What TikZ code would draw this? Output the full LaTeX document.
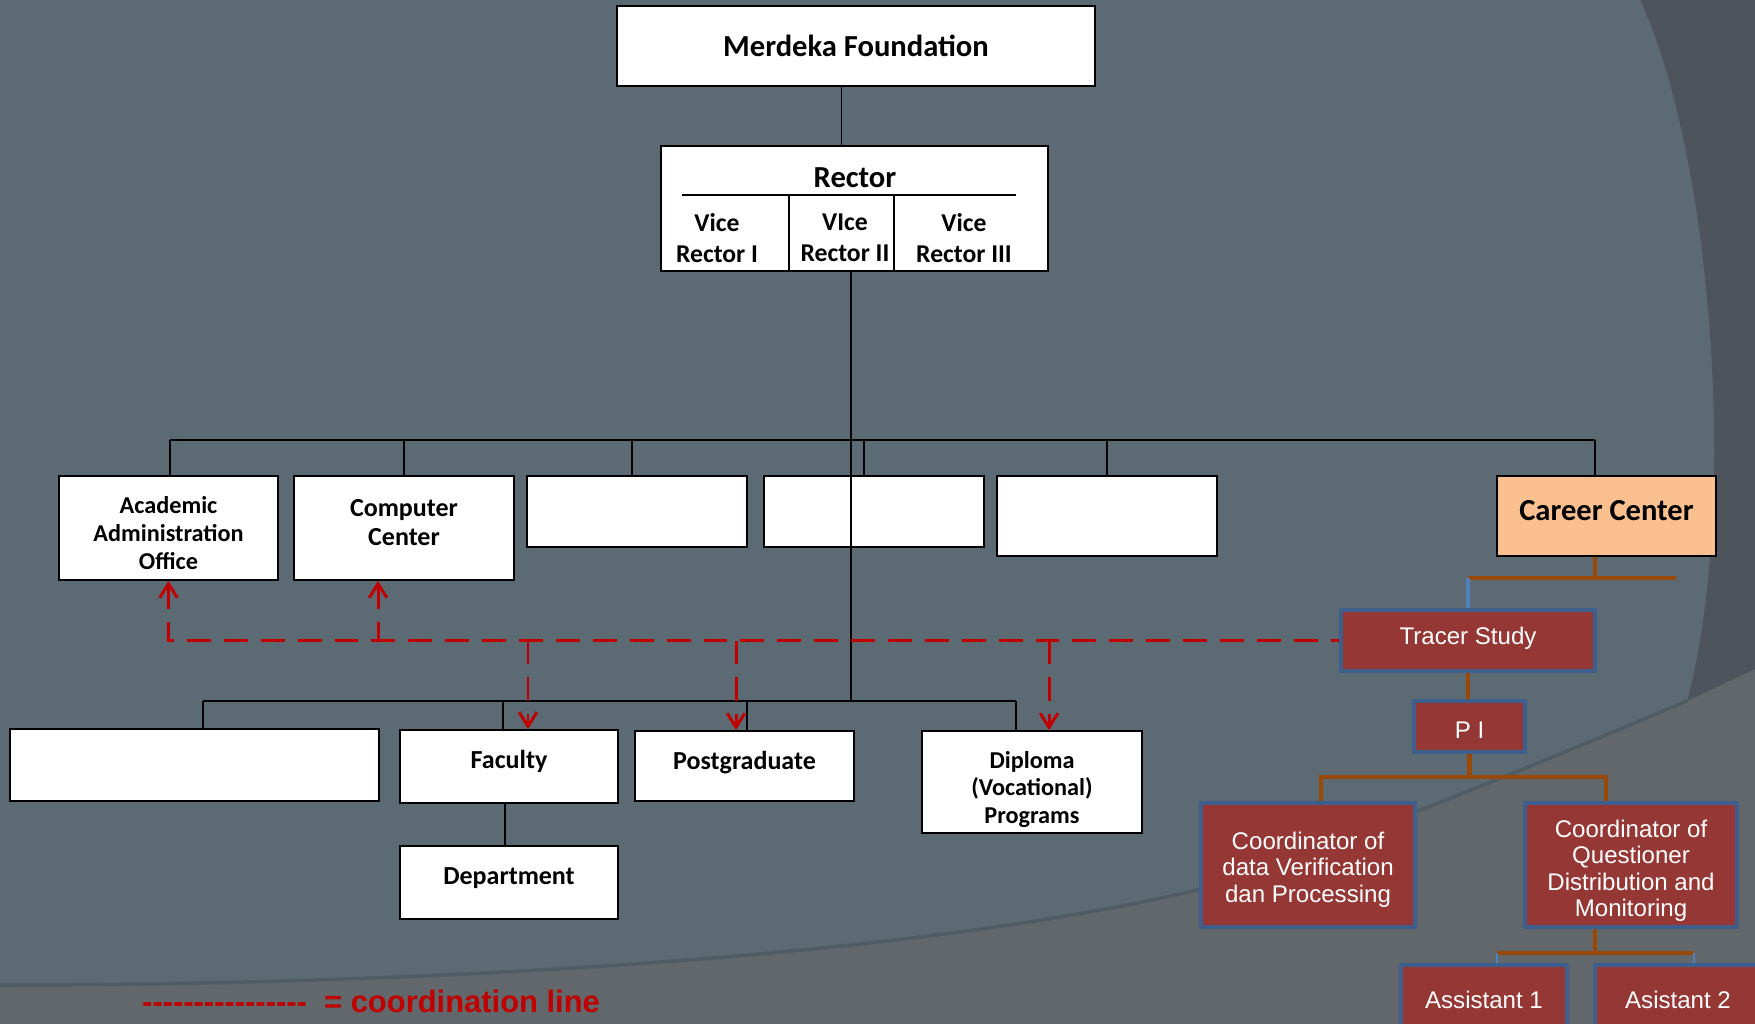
\documentclass[tikz,border=0pt]{standalone}
\usepackage{fontspec}
\setmainfont{Carlito}
\newfontfamily\tsfont{Liberation Sans}
\usetikzlibrary{arrows.meta}
\definecolor{bgmain}{RGB}{92,106,116}
\definecolor{bgdark}{RGB}{78,84,92}
\definecolor{bglow}{RGB}{97,103,106}
\definecolor{bgedge}{RGB}{80,92,100}
\definecolor{tsred}{RGB}{149,55,53}
\definecolor{tsblue}{RGB}{62,94,142}
\definecolor{tsbrown}{RGB}{152,72,7}
\definecolor{tickblue}{RGB}{79,129,189}
\definecolor{coordred}{RGB}{192,0,0}
\newcommand{\legdash}{-\kern0pt}

\begin{document}
\begin{tikzpicture}[x=0.02cm, y=-0.02cm,
  unit/.style={draw=black, line width=1pt, fill=white, inner sep=0pt, align=center},
  bigtext/.style={font=\bfseries\fontsize{17.4}{20}\selectfont},
  midtext/.style={font=\bfseries\fontsize{14.8}{16.6}\selectfont},
  smalltext/.style={font=\bfseries\fontsize{13.8}{15.8}\selectfont},
  vicetext/.style={align=center, font=\bfseries\fontsize{14.6}{17.6}\selectfont},
  ts/.style={draw=tsblue, line width=2.1pt, fill=tsred, text=white, inner sep=0pt,
    align=center, font=\tsfont\fontsize{13.7}{15.1}\selectfont},
  orgline/.style={draw=black, line width=1pt},
  tsline/.style={draw=tsbrown, line width=2.5pt},
  coordline/.style={draw=coordred, line width=1.7pt, dash pattern=on 13.6pt off 7.4pt,
    >={Straight Barb[length=8pt,width=10pt]}}]
  \useasboundingbox (0,0) rectangle (1755,1024);
  \clip (0,0) rectangle (1755,1024);
  \fill[bglow] (0,0) rectangle (1755,1024);
  \fill[bgdark] (1640,0) -- (1755,0) -- (1755,669) -- (1687,701)
    .. controls (1740,500) and (1710,150) .. (1640,0);
  \fill[bgmain] (0,0) -- (1640,0) .. controls (1710,150) and (1740,500) .. (1687,701)
    .. controls (1500,780) and (1300,860) .. (1197,890)
    .. controls (900,960) and (400,985) .. (0,985) -- cycle;
  \draw[bgedge, line width=2pt] (1687,701) .. controls (1500,780) and (1300,860) .. (1197,890)
    .. controls (900,960) and (400,985) .. (0,985);

  \node[unit, bigtext, minimum width=9.56cm, minimum height=1.6cm] (Merdeka) at (856,46)
    {Merdeka Foundation};
  \node[unit, minimum width=7.74cm, minimum height=2.5cm] (Rector) at (854.5,208.5) {};
  \node[bigtext] (RectorTitle) at (855,178) {Rector};
  \draw[orgline] (682,195) -- (1016,195);
  \draw[orgline] (789,195) -- (789,271);
  \draw[orgline] (894,195) -- (894,271);
  \node[vicetext] (ViceOne) at (717,238) {Vice\\Rector I};
  \node[vicetext] (ViceTwo) at (845,238) {VIce\\Rector II};
  \node[vicetext] (ViceThree) at (964,238) {Vice\\Rector III};

  \node[unit, smalltext, text height=47pt, text depth=0pt, minimum width=4.38cm,
    minimum height=2.08cm] (AcadAdmin) at (168.5,528) {Academic\\Administration\\Office};
  \node[unit, midtext, text depth=6.4pt, minimum width=4.4cm, minimum height=2.08cm]
    (CompCenter) at (404,528) {Computer\\Center};
  \node[unit, minimum width=4.4cm, minimum height=1.42cm] (BlankA) at (637,511.5) {};
  \node[unit, minimum width=4.4cm, minimum height=1.42cm] (BlankB) at (874,511.5) {};
  \node[unit, minimum width=4.4cm, minimum height=1.6cm] (BlankC) at (1107,516) {};
  \node[unit, bigtext, text depth=6.4pt, fill={rgb,255:red,250;green,192;blue,144},
    minimum width=4.38cm, minimum height=1.6cm] (Career) at (1606.5,516) {Career Center};

  \node[unit, minimum width=7.38cm, minimum height=1.44cm] (BlankLow) at (194.5,765) {};
  \node[unit, midtext, text depth=8.5pt, minimum width=4.36cm, minimum height=1.46cm]
    (Faculty) at (509,766.5) {Faculty};
  \node[unit, midtext, text depth=6.1pt, minimum width=4.38cm, minimum height=1.4cm]
    (Postgrad) at (744.5,766) {Postgraduate};
  \node[unit, smalltext, text height=47.5pt, text depth=0pt, minimum width=4.4cm,
    minimum height=2.04cm] (Diploma) at (1032,782) {Diploma\\(Vocational)\\Programs};
  \node[unit, midtext, text depth=7.2pt, minimum width=4.36cm, minimum height=1.46cm]
    (Department) at (509,882.5) {Department};

  \node[ts, text depth=5.4pt, minimum width=5.08cm, minimum height=1.22cm] (Tracer)
    at (1468,640.5) {Tracer Study};
  \node[ts, text height=13.6pt, text depth=0pt, minimum width=2.22cm, minimum height=1.02cm]
    (PI) at (1469.5,726.5) {P I};
  \node[ts, text height=42.7pt, text depth=0pt, minimum width=4.28cm, minimum height=2.48cm]
    (CoordData) at (1308,865) {Coordinator of\\data Verification\\dan Processing};
  \node[ts, text height=59.1pt, text depth=0pt, minimum width=4.24cm, minimum height=2.48cm]
    (CoordQuest) at (1631,865) {Coordinator of\\Questioner\\Distribution and\\Monitoring};
  \node[ts, text height=13.8pt, text depth=0pt, minimum width=3.32cm, minimum height=1.24cm]
    (AsstOne) at (1484,996) {Assistant 1};
  \node[ts, text height=13.8pt, text depth=0pt, minimum width=3.32cm, minimum height=1.24cm]
    (AsstTwo) at (1678,996) {Asistant 2};

  \node[anchor=west, text=coordred, font=\tsfont\bfseries\fontsize{17.6}{19}\selectfont]
    (Legend) at (136,1001)
    {\legdash\legdash\legdash\legdash\legdash\legdash\legdash\legdash\legdash\legdash\legdash\legdash\legdash\legdash\legdash\legdash\ \ = coordination line};

  \coordinate (BusUp) at (0,440);
  \coordinate (BusLow) at (0,701);
  \draw[orgline] ([xshift=-0.26cm]Rector.north) -- ([xshift=-0.26cm]Rector.north |- Merdeka.south);
  \draw[orgline] ([xshift=0.03cm]AcadAdmin.north |- BusUp) -- ([xshift=-0.23cm]Career.north |- BusUp);
  \foreach \n/\dx in {AcadAdmin/0.03, CompCenter/0, BlankA/-0.1, BlankB/-0.2, BlankC/0, Career/-0.23}
    \draw[orgline] ([xshift=\dx cm]\n.north) -- ([xshift=\dx cm]\n.north |- BusUp);
  \draw[orgline] ([xshift=-0.07cm]Rector.south) -- ([xshift=-0.07cm]Rector.south |- BusLow);
  \draw[orgline] ([xshift=0.17cm]BlankLow.north |- BusLow) -- ([xshift=-0.32cm]Diploma.north |- BusLow);
  \foreach \n/\dx in {BlankLow/0.17, Faculty/-0.12, Postgrad/0.05, Diploma/-0.32}
    \draw[orgline] ([xshift=\dx cm]\n.north) -- ([xshift=\dx cm]\n.north |- BusLow);
  \draw[orgline] ([xshift=-0.08cm]Faculty.south) -- ([xshift=-0.08cm]Department.north);

  \draw[coordline, <-] (AcadAdmin.south) |- (Tracer.west);
  \draw[coordline, <-] ([xshift=-0.52cm]CompCenter.south) -- ([xshift=-0.52cm]CompCenter.south |- Tracer.west);
  \draw[coordline, ->] ([xshift=0.38cm]Faculty.north |- Tracer.west) -- ([xshift=0.38cm]Faculty.north);
  \draw[coordline, ->] ([xshift=-0.17cm]Postgrad.north |- Tracer.west) -- ([xshift=-0.17cm]Postgrad.north);
  \draw[coordline, ->] ([xshift=0.34cm]Diploma.north |- Tracer.west) -- ([xshift=0.34cm]Diploma.north);

  \coordinate (CareerBus) at (0,578);
  \coordinate (PIBus) at (0,777);
  \coordinate (AsstBus) at (0,953);
  \draw[tsline] ([xshift=-0.23cm]Career.south) -- ([xshift=-0.23cm]Career.south |- CareerBus);
  \draw[tsline] (Tracer.north |- CareerBus) -- ([xshift=1.39cm]Career.south |- CareerBus);
  \draw[tickblue, line width=2.2pt] (Tracer.north |- CareerBus) -- (Tracer.north);
  \draw[tsline] (Tracer.south) -- (Tracer.south |- PI.north);
  \draw[tsline] (PI.south) -- (PI.south |- PIBus);
  \draw[tsline] ([xshift=0.26cm]CoordData.north) |- (PI.south |- PIBus) -| ([xshift=-0.5cm]CoordQuest.north);
  \draw[tsline] ([xshift=-0.72cm]CoordQuest.south) -- ([xshift=-0.72cm]CoordQuest.south |- AsstBus);
  \draw[tsline] ([xshift=0.26cm]AsstOne.north |- AsstBus) -- ([xshift=0.32cm]AsstTwo.north |- AsstBus);
  \draw[tickblue, line width=0.6pt] ([xshift=0.26cm]AsstOne.north |- AsstBus) -- ([xshift=0.26cm]AsstOne.north);
  \draw[tickblue, line width=0.6pt] ([xshift=0.32cm]AsstTwo.north |- AsstBus) -- ([xshift=0.32cm]AsstTwo.north);
\end{tikzpicture}
\end{document}
